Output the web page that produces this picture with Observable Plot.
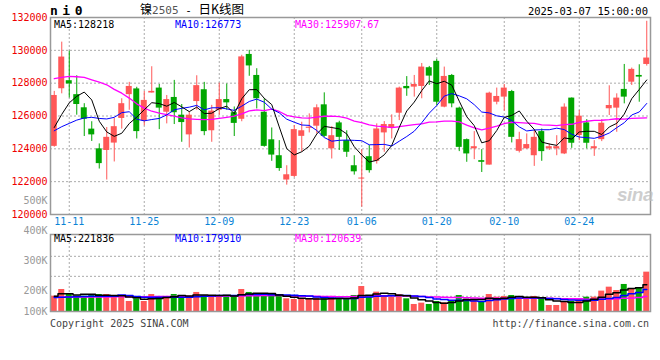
<!DOCTYPE html>
<html><head><meta charset="utf-8">
<script src="https://cdn.jsdelivr.net/npm/d3@7"></script>
<script src="https://cdn.jsdelivr.net/npm/@observablehq/plot@0.6"></script>
<style>
body{margin:0;background:#fff;}
#c{position:relative;width:660px;height:360px;overflow:hidden;background:#fff;font-family:"DejaVu Sans Mono",monospace;font-size:10px;}
#c > svg{position:absolute;left:0;top:0;}
.t{position:absolute;white-space:nowrap;line-height:12px;}
</style></head><body><div id="c"></div>
<script>
// ---- data (ni2505 daily K) ----
const dates = ["11-07","11-08","11-11","11-12","11-13","11-14","11-15","11-18","11-19","11-20","11-21","11-22","11-25","11-26","11-27","11-28","11-29",
"12-02","12-03","12-04","12-05","12-06","12-09","12-10","12-11","12-12","12-13","12-16","12-17","12-18","12-19","12-20","12-23","12-24","12-25","12-26","12-27","12-30","12-31",
"01-02","01-03","01-06","01-07","01-08","01-09","01-10","01-13","01-14","01-15","01-16","01-17","01-20","01-21","01-22","01-23","01-24","01-27",
"02-05","02-06","02-07","02-10","02-11","02-12","02-13","02-14","02-17","02-18","02-19","02-20","02-21","02-24","02-25","02-26","02-27","02-28",
"03-03","03-04","03-05","03-06","03-07"];
const open  = [124150,127660,128150,127300,126500,125200,124000,123900,124350,125850,127300,127650,125700,127400,127700,126230,127130,126050,124850,126880,127600,125100,126350,127000,126200,125800,129750,128470,126230,124550,123580,122100,122320,124760,125250,125380,126680,124000,125580,124500,122970,122160,123520,123240,124970,125250,126170,127800,127760,127800,128940,129330,126540,128470,126480,124560,124000,123280,123010,126840,127150,127490,123850,124000,123580,125050,124000,124000,123690,127090,124810,125580,124000,124560,126440,126480,127620,128060,128470,129140];
const high  = [127500,130500,129950,128450,126750,125650,124300,125300,125850,127050,128050,127750,127500,129000,127920,127250,128170,126700,126250,128450,128050,126650,128000,127950,126550,129700,130000,128880,127050,125270,124500,122970,125420,125620,126130,126680,127410,125350,125680,125100,123580,123950,124200,125520,125660,126070,127760,128400,128470,129200,129020,129450,128980,128530,126540,124600,125050,123950,127450,127700,127920,127560,125010,124910,125110,125210,124300,124800,126740,127100,126330,125780,124500,125780,127840,127350,129140,128920,129120,131770];
const low   = [124100,127350,127100,126050,124750,124450,122770,122100,123200,125200,126350,124600,125400,127400,125170,125520,125480,124400,124050,126350,124800,124400,126050,126350,124750,125650,128420,126430,124100,123240,122630,121790,122250,123800,124970,124910,124700,123380,123900,123480,122400,120450,122520,123070,123790,124600,125720,127200,127150,127050,127860,126640,126500,126500,123830,123180,123340,122560,123010,126680,126290,124360,123750,123980,122930,123240,123900,123580,123650,124030,124500,124000,123540,124440,126030,125010,126740,127860,126840,129040];
const close = [127250,129590,127950,126700,125800,124850,123100,124700,125350,126750,127800,125050,126950,127500,126480,127000,126200,125600,126050,127850,125050,126300,127000,126800,125550,129600,129050,127050,124150,123620,122800,122420,125170,125100,125320,126500,124760,124800,124700,123790,122600,122220,122670,125210,125480,125480,127700,127660,127920,128980,128430,126840,128410,126740,124090,123690,124130,123180,127390,127190,127700,124700,124560,124260,124700,123830,124130,124130,126540,124340,125990,124340,124130,125560,126640,127090,127150,128840,128370,129530];
const volume = [126500,181500,145800,126500,126500,132000,140000,140000,118000,118000,82500,104500,82500,140000,124000,124000,140000,132000,124000,157000,132000,124000,124000,132000,132000,181500,157000,148500,132000,124000,124000,104500,99000,99000,99000,110000,104500,115000,104500,104500,132000,206000,118000,159500,132000,118000,140000,104500,58000,69000,58000,82500,71500,91000,132000,104500,91000,77000,140000,118000,124000,132000,104500,104500,124000,104500,49500,49500,82500,82500,104500,118000,118000,168000,200700,173000,223000,187000,192500,324500];
// moving-average values before a full window is available
const ma5Head  = [125300,126100,126800,127200];
const ma10Head = [125100,125350,125550,125750,125880,125920,125850,125820,125920];
const ma30Head = [128270,128350,128410,128390,128350,128200,128060,127900,127620,127390,127090,126740,126480,126290,126170,126090,125990,125880,125820,125800,125780,125800,125860,125920,125990,126130,126310,126370,126330];
const vma5Head  = [126000,146000,146000,137000];
const vma10Head = [115000,117000,119000,121000,123000,125000,126000,126000,126000];
const vma30Head = [120000,120000,120000,120000,120000,120000,120000,120000,121000,121000,121000,122000,122000,122000,123000,123000,123000,124000,124000,125000,125000,126000,126000,127000,127000,128000,129000,130000,131000];
// ticks and labels
const priceTicks = [120000,122000,124000,126000,128000,130000,132000];
const dateTicks = ["11-11","11-25","12-09","12-23","01-06","01-20","02-10","02-24"];
const volTicks = [100000,200000,300000,400000,500000];
const volGrid = [125000,290000,455000];
const maPriceText = ["MA5:128218","MA10:126773","MA30:125907.67"];
const maVolText = ["MA5:221836","MA10:179910","MA30:120639"];
const titleCode = "ni0";
const titleParts = ["镍","2505"," - ","日K线图"];
const timeText = "2025-03-07 15:00:00";
const copyText = "Copyright 2025 SINA.COM";
const urlText = "http://finance.sina.com.cn";

// ---- build ----
const RED = "#ff5757", GREEN = "#00a600";
function ma(arr, k, head) {
  return arr.map((_, i) => i < k - 1 ? head[i] : d3.mean(arr.slice(i - k + 1, i + 1)));
}
const ma5 = ma(close, 5, ma5Head), ma10 = ma(close, 10, ma10Head), ma30 = ma(close, 30, ma30Head);
const vma5 = ma(volume, 5, vma5Head), vma10 = ma(volume, 10, vma10Head), vma30 = ma(volume, 30, vma30Head);
const rows = dates.map((d, i) => ({
  d, o: open[i], h: high[i], l: low[i], c: close[i], v: volume[i],
  col: close[i] >= open[i] ? RED : GREEN,
  ma5: ma5[i], ma10: ma10[i], ma30: ma30[i], vma5: vma5[i], vma10: vma10[i], vma30: vma30[i]
}));

const FONT = "DejaVu Sans Mono";
const xOpt = {type: "band", domain: dates, paddingInner: 0.2, paddingOuter: 0.1, round: false, axis: null};
const dotted = {stroke: "#aaa", strokeOpacity: 1, strokeDasharray: "2,2"};
const common = {width: 660, height: 360, marginLeft: 50, marginRight: 10,
  style: {background: "transparent", fontFamily: FONT, fontSize: "10px", overflow: "visible"}};

const pricePlot = Plot.plot({
  ...common, marginTop: 17, marginBottom: 146,
  x: xOpt,
  y: {domain: [120000, 132000], axis: null},
  color: {type: "identity"},
  marks: [
    Plot.gridY(priceTicks.slice(1, -1), dotted),
    Plot.gridX(dateTicks, dotted),
    Plot.ruleX(rows, {x: "d", y1: "l", y2: "h", stroke: "col", strokeWidth: 1}),
    Plot.barY(rows, {x: "d", y1: "o", y2: "c", fill: "col"}),
    Plot.lineY(rows, {x: "d", y: "ma30", stroke: "#ff00ff", strokeWidth: 1.3}),
    Plot.lineY(rows, {x: "d", y: "ma10", stroke: "#0000ff", strokeWidth: 1}),
    Plot.lineY(rows, {x: "d", y: "ma5", stroke: "#000", strokeWidth: 1}),
    Plot.frame({stroke: "#999", strokeWidth: 1.5}),
    Plot.axisY(priceTicks, {anchor: "left", label: null, tickSize: 0, tickPadding: 3, tickFormat: d => String(d), fill: "#e00", fontSize: 10, fontFamily: FONT}),
    Plot.axisX(dateTicks, {anchor: "bottom", label: null, tickSize: 0, tickPadding: 3, fill: "#0a84d6", fontSize: 10, fontFamily: FONT})
  ]
});

const volPlot = Plot.plot({
  ...common, marginTop: 234, marginBottom: 49,
  x: xOpt,
  y: {domain: [0, 635000], axis: null},
  color: {type: "identity"},
  marks: [
    Plot.gridY(volGrid, dotted),
    Plot.gridX(dateTicks, dotted),
    Plot.barY(rows, {x: "d", y: "v", fill: "col"}),
    Plot.lineY(rows, {x: "d", y: "vma30", stroke: "#ff00ff", strokeWidth: 1.5, curve: "step"}),
    Plot.lineY(rows, {x: "d", y: "vma10", stroke: "#0000ff", strokeWidth: 1.5, curve: "step"}),
    Plot.lineY(rows, {x: "d", y: "vma5", stroke: "#000", strokeWidth: 1.5, curve: "step"}),
    Plot.frame({stroke: "#999", strokeWidth: 1.5})
  ]
});

const volLabelPlot = Plot.plot({
  ...common, marginTop: 0, marginBottom: 0,
  y: {type: "linear", domain: [100000, 200000, 500000], range: [311, 290.7, 200], axis: null},
  marks: [
    Plot.axisY(volTicks, {anchor: "left", label: null, tickSize: 0, tickPadding: 3, tickFormat: d => d / 1000 + "K", fill: "#999", fontSize: 10, fontFamily: FONT})
  ]
});

const c = document.getElementById("c");
c.append(volPlot, pricePlot, volLabelPlot);

function addText(txt, css) {
  const el = document.createElement("div");
  el.className = "t";
  el.textContent = txt;
  Object.assign(el.style, css);
  c.append(el);
  return el;
}
addText(titleCode, {left: "50px", top: "4px", fontWeight: "bold", fontSize: "13px", lineHeight: "14px", letterSpacing: "4.5px", color: "#000"});
const tt = addText("", {left: "140px", top: "3px", fontSize: "12px", lineHeight: "12px", height: "12px", fontFamily: "'Noto Sans CJK SC', sans-serif", color: "#000"});
titleParts.forEach((p, i) => {
  const s = document.createElement("span");
  s.textContent = p;
  if (i === 1) { s.style.fontFamily = FONT; s.style.fontSize = "11px"; s.style.color = "#555"; }
  if (i === 2) { s.style.fontFamily = FONT; s.style.fontSize = "11px"; s.style.whiteSpace = "pre"; }
  if (i === 3) { s.style.fontSize = "12.5px"; }
  tt.append(s);
});
addText(timeText, {right: "12px", top: "5px", color: "#000", fontSize: "10.5px"});
const maColors = ["#000", "#0000ff", "#ff00ff"];
const maLeft = [54, 175, 295];
maPriceText.forEach((t, i) => addText(t, {left: maLeft[i] + "px", top: "18.5px", lineHeight: "11px", color: maColors[i]}));
maVolText.forEach((t, i) => addText(t, {left: maLeft[i] + "px", top: "233px", color: maColors[i]}));
addText(copyText, {left: "50px", top: "318px", color: "#444"});
addText(urlText, {right: "11px", top: "318px", color: "#444"});
addText("sina", {left: "617px", top: "185px", fontFamily: "'Liberation Sans', sans-serif", fontStyle: "italic", fontWeight: "bold", fontSize: "19px", lineHeight: "20px", color: "rgba(190,190,190,0.75)", letterSpacing: "-0.5px"});
</script></body></html>
